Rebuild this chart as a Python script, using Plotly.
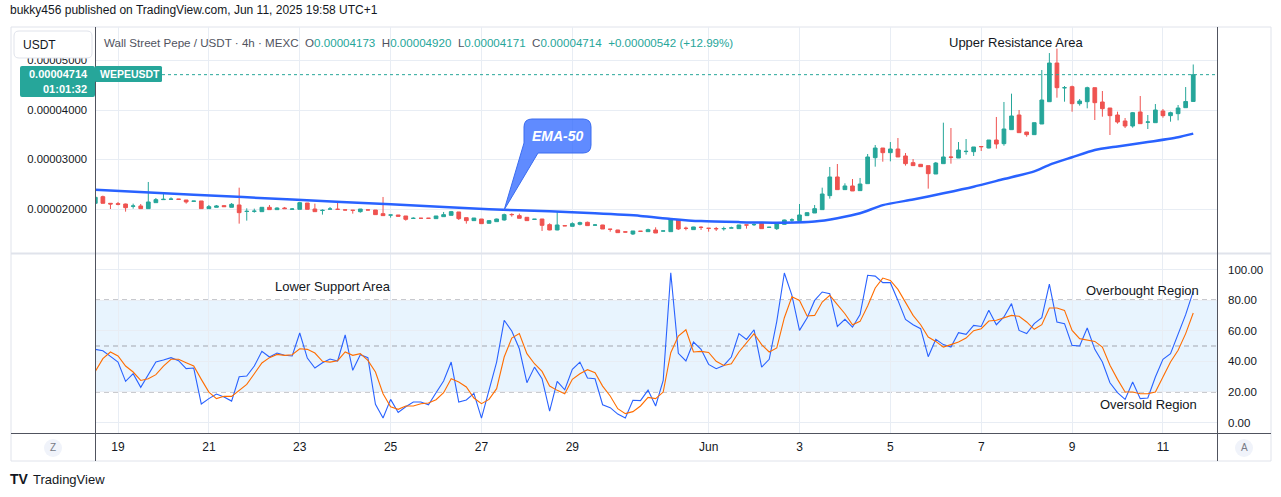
import numpy as np
import pandas as pd
import plotly.graph_objects as go
from plotly.subplots import make_subplots

# ---------------- data (prices in units of 1e-8 USDT) ----------------
bar_start = "2025-05-18 12:00"
bar_hours = 4

open_e8 = [2115, 2249, 2115, 2108, 2101, 2055, 2061, 2007, 2128, 2189,
           2196, 2200, 2182, 2155, 2162, 2007, 2034, 2068, 2034, 2081,
           1950, 1953, 1946, 2034, 1987, 2020, 1995, 1993, 2121, 2000,
           1970, 1998, 1995, 1982, 1975, 1946, 1982, 1980, 1906, 1877,
           1879, 1859, 1810, 1813, 1813, 1805, 1845, 1872, 1940, 1825,
           1765, 1798, 1711, 1744, 1778, 1890, 1866, 1832, 1790, 1798,
           1684, 1576, 1664, 1650, 1691, 1731, 1674, 1677, 1592, 1576,
           1538, 1495, 1551, 1542, 1576, 1555, 1542, 1778, 1612, 1583,
           1632, 1611, 1605, 1601, 1615, 1603, 1678, 1682, 1711, 1629,
           1603, 1690, 1776, 1765, 1866, 1919, 1987, 2270, 2647, 2391,
           2465, 2371, 2512, 3037, 3232, 3138, 3212, 3071, 2936, 2903,
           2876, 2707, 2916, 3051, 3030, 3160, 3158, 3262, 3232, 3394,
           3320, 3603, 3899, 3555, 3502, 3717, 4168, 4949, 4448, 4471,
           4128, 4168, 4451, 4162, 4040, 3899, 3778, 3677, 3960, 3755,
           3744, 3980, 3886, 3926, 4047, 4173]
high_e8 = [2245, 2270, 2118, 2142, 2108, 2108, 2101, 2546, 2222, 2303,
           2236, 2202, 2182, 2162, 2162, 2081, 2081, 2075, 2121, 2431,
           2014, 2007, 2034, 2081, 2034, 2041, 2020, 2142, 2121, 2108,
           1993, 2041, 2135, 1982, 1975, 2000, 1984, 1980, 2243, 1879,
           1879, 1859, 1832, 1814, 1814, 1859, 1940, 1960, 1940, 1825,
           1818, 1798, 1778, 1805, 1906, 1913, 1906, 1835, 1796, 1800,
           1711, 1953, 1666, 1731, 1744, 1744, 1697, 1680, 1592, 1578,
           1540, 1556, 1553, 1603, 1630, 1558, 1785, 1780, 1643, 1640,
           1650, 1612, 1637, 1643, 1643, 1680, 1678, 1711, 1711, 1632,
           1697, 1785, 1812, 2101, 1930, 2081, 2431, 2849, 2909, 2519,
           2606, 2627, 3111, 3293, 3232, 3353, 3434, 3131, 3010, 2910,
           2876, 2950, 3744, 3636, 3353, 3414, 3253, 3265, 3394, 3859,
           4162, 4330, 4000, 3555, 3744, 4808, 5151, 5240, 4485, 4492,
           4222, 4471, 4451, 4384, 4040, 3966, 3838, 3960, 4283, 3899,
           4121, 4020, 3966, 4101, 4464, 4920]
low_e8 = [2110, 2115, 2000, 2075, 1946, 2007, 2007, 2007, 2128, 2189,
          2196, 2194, 2108, 2155, 2007, 2007, 2034, 2047, 2034, 1704,
          1765, 1926, 1946, 1987, 1987, 2007, 1995, 1993, 1993, 1946,
          1886, 1998, 1993, 1978, 1906, 1926, 1978, 1886, 1866, 1825,
          1852, 1765, 1810, 1811, 1811, 1805, 1845, 1872, 1778, 1704,
          1765, 1704, 1711, 1738, 1765, 1845, 1812, 1760, 1788, 1556,
          1570, 1570, 1658, 1648, 1670, 1664, 1657, 1596, 1542, 1522,
          1530, 1475, 1547, 1542, 1515, 1553, 1542, 1576, 1569, 1583,
          1576, 1542, 1556, 1563, 1615, 1603, 1603, 1657, 1603, 1627,
          1576, 1685, 1731, 1758, 1866, 1919, 1987, 2209, 2391, 2391,
          2364, 2371, 2512, 2855, 2956, 2963, 3051, 2876, 2876, 2855,
          2411, 2707, 2916, 2916, 3030, 3098, 3071, 3172, 3226, 3219,
          3279, 3603, 3542, 3461, 3502, 3717, 4168, 4249, 4168, 3966,
          4088, 4034, 3798, 3865, 3495, 3724, 3636, 3643, 3724, 3616,
          3744, 3845, 3764, 3791, 4047, 4171]
close_e8 = [2236, 2115, 2101, 2095, 2027, 2061, 2007, 2142, 2189, 2196,
            2200, 2196, 2142, 2160, 2007, 2047, 2061, 2047, 2095, 1926,
            1953, 1956, 2034, 1987, 2020, 2007, 2000, 2128, 1993, 1946,
            1973, 2000, 1993, 1980, 1973, 2000, 1980, 1886, 1866, 1879,
            1852, 1791, 1812, 1812, 1812, 1859, 1886, 1946, 1805, 1765,
            1818, 1704, 1765, 1798, 1886, 1886, 1812, 1765, 1794, 1670,
            1576, 1677, 1660, 1704, 1724, 1664, 1677, 1596, 1590, 1522,
            1534, 1556, 1549, 1583, 1515, 1556, 1785, 1596, 1608, 1637,
            1628, 1609, 1601, 1605, 1618, 1677, 1676, 1686, 1603, 1631,
            1697, 1778, 1780, 1879, 1926, 2007, 2303, 2647, 2391, 2465,
            2364, 2505, 3051, 3232, 3138, 3212, 3051, 2916, 2876, 2855,
            2714, 2929, 3051, 3044, 3192, 3165, 3253, 3259, 3394, 3313,
            3616, 3879, 3542, 3502, 3744, 4202, 4949, 4451, 4451, 4128,
            4182, 4451, 4148, 4027, 3886, 3757, 3677, 3946, 3724, 3757,
            4000, 3886, 3946, 4040, 4172, 4714]

# EMA-50 read at selected bars (bar index, value in 1e-8)
ema_bar = [0, 13, 26, 39, 52, 60, 66, 72, 76, 80, 85, 90, 95, 98, 101, 104,
           108, 112, 116, 120, 124, 126, 129, 132, 135, 139, 143, 145]
ema_e8 = [2388, 2289, 2192, 2095, 1994, 1952, 1912, 1860, 1800, 1755, 1735,
          1724, 1748, 1815, 1913, 2078, 2192, 2317, 2450, 2605, 2760, 2893,
          3045, 3193, 3265, 3352, 3450, 3523]

stoch_k = [47.8, 46.9, 43.2, 39.5, 26.9, 31.9, 23.0, 30.8, 39.5, 40.8,
           42.4, 40.4, 35.2, 35.6, 12.1, 15.6, 18.6, 16.7, 14.0, 29.9,
           30.4, 36.9, 46.5, 42.8, 45.4, 43.9, 43.5, 58.5, 42.1, 35.6,
           39.1, 41.5, 40.2, 57.2, 34.1, 44.3, 42.4, 11.9, 2.9, 15.1,
           6.6, 10.3, 13.4, 13.4, 11.6, 19.5, 27.1, 39.5, 13.4, 14.7,
           19.0, 2.9, 21.0, 39.5, 66.8, 59.8, 48.2, 26.0, 36.2, 28.6,
           7.5, 26.9, 21.4, 34.7, 39.5, 29.1, 28.6, 11.6, 9.7, 5.5,
           2.9, 14.5, 14.3, 21.2, 10.8, 27.5, 97.9, 45.2, 40.2, 52.6,
           47.8, 38.0, 35.2, 37.3, 42.8, 58.1, 54.3, 60.6, 36.2, 41.3,
           66.1, 97.7, 83.1, 60.2, 68.3, 79.8, 85.3, 84.2, 62.8, 67.4,
           62.3, 70.5, 96.2, 95.7, 91.4, 91.4, 79.8, 67.4, 63.9, 61.3,
           43.0, 54.3, 50.9, 49.3, 58.7, 57.6, 63.5, 62.8, 73.3, 63.9,
           69.0, 77.7, 60.2, 58.1, 64.6, 68.5, 90.5, 65.7, 64.6, 50.4,
           50.0, 61.8, 47.8, 39.5, 26.0, 19.5, 15.1, 26.5, 15.6, 16.0,
           29.7, 41.3, 45.0, 57.6, 70.5, 85.7]
stoch_d = [33.4, 41.7, 46.1, 43.5, 36.9, 33.0, 27.5, 28.6, 31.3, 36.9,
           41.3, 41.3, 39.1, 36.9, 28.2, 19.9, 15.6, 17.1, 17.1, 20.8,
           24.9, 31.9, 38.9, 42.4, 44.5, 43.9, 44.3, 48.2, 47.8, 45.4,
           40.0, 39.5, 40.4, 46.1, 43.9, 45.0, 40.6, 33.0, 18.8, 10.3,
           8.6, 10.8, 10.8, 12.3, 12.7, 14.9, 19.5, 28.6, 26.5, 23.2,
           16.0, 12.3, 15.1, 22.1, 42.8, 55.2, 58.1, 45.0, 38.4, 33.4,
           23.8, 21.0, 18.8, 28.2, 31.9, 34.5, 32.6, 23.8, 17.3, 9.0,
           5.8, 7.1, 10.8, 16.4, 15.6, 19.9, 45.6, 56.5, 60.6, 46.1,
           46.5, 45.8, 40.0, 37.3, 38.4, 46.1, 52.2, 58.1, 50.9, 46.1,
           48.7, 68.5, 82.2, 79.8, 69.6, 70.0, 78.7, 83.1, 77.0, 71.1,
           63.9, 66.1, 76.1, 87.9, 94.4, 92.9, 87.0, 78.7, 70.0, 63.9,
           55.9, 53.0, 49.3, 50.9, 52.6, 55.2, 60.0, 61.3, 66.3, 66.8,
           68.3, 70.0, 69.4, 65.7, 60.9, 63.9, 74.8, 74.8, 73.3, 60.2,
           54.8, 54.1, 53.0, 49.3, 37.4, 28.2, 19.9, 19.9, 18.8, 18.8,
           19.9, 29.7, 39.5, 47.2, 58.1, 71.6]

date_ticks = ["2025-05-19", "2025-05-21", "2025-05-23", "2025-05-25", "2025-05-27",
              "2025-05-29", "2025-06-01", "2025-06-03", "2025-06-05", "2025-06-07",
              "2025-06-09", "2025-06-11"]
date_labels = ["19", "21", "23", "25", "27", "29", "Jun", "3", "5", "7", "9", "11"]
price_ticks = [2e-5, 3e-5, 4e-5, 5e-5]
stoch_ticks = [0, 20, 40, 60, 80, 100]
countdown = "01:01:32"

# ---------------- derived series ----------------
times = pd.date_range(bar_start, periods=len(close_e8), freq=f"{bar_hours}h")
o = np.array(open_e8) * 1e-8
h = np.array(high_e8) * 1e-8
l = np.array(low_e8) * 1e-8
c = np.array(close_e8) * 1e-8
ema_x = times[ema_bar]
ema_y = np.array(ema_e8) * 1e-8

# ---------------- geometry ----------------
W, H = 1281, 497
PL, PR, PT, PB = 95, 1217, 27, 433
UP_BOT, LO_TOP = 253, 254
FONT = "Liberation Sans, Arial, sans-serif"
UPC, DNC = "#26a69a", "#ef5350"
TXT = "#131722"
GRID = "#e8edf4"


def X(px):
    return (px - PL) / (PR - PL)


def Y(py):
    return (PB - py) / (PB - PT)


bar_px = 7.572
first_px = 95.3
i_left = (PL - first_px) / bar_px
i_right = (PR - first_px) / bar_px
t0 = pd.Timestamp(bar_start)
x_range = [t0 + pd.Timedelta(hours=bar_hours * i_left),
           t0 + pd.Timedelta(hours=bar_hours * i_right)]
price_range = [1111e-8, 5677e-8]
stoch_range = [-6.86, 110.13]

fig = make_subplots(rows=2, cols=1, shared_xaxes=True, vertical_spacing=0.0)

fig.add_trace(go.Candlestick(
    x=times, open=o, high=h, low=l, close=c,
    increasing=dict(line=dict(color=UPC, width=1), fillcolor=UPC),
    decreasing=dict(line=dict(color=DNC, width=1), fillcolor=DNC),
    whiskerwidth=0, showlegend=False, hoverinfo="skip"), row=1, col=1)

fig.add_trace(go.Scatter(
    x=ema_x, y=ema_y, mode="lines",
    line=dict(color="#2962ff", width=2.5, shape="spline", smoothing=0.6),
    showlegend=False, hoverinfo="skip"), row=1, col=1)

fig.add_trace(go.Scatter(
    x=times, y=stoch_k, mode="lines", line=dict(color="#2962ff", width=1.1),
    showlegend=False, hoverinfo="skip"), row=2, col=1)
fig.add_trace(go.Scatter(
    x=times, y=stoch_d, mode="lines", line=dict(color="#ff6d00", width=1.1),
    showlegend=False, hoverinfo="skip"), row=2, col=1)

fig.update_xaxes(range=x_range, rangeslider_visible=False, showgrid=True,
                 gridcolor=GRID, gridwidth=1, tickvals=date_ticks, ticktext=date_labels,
                 zeroline=False, showline=False, ticks="")
fig.update_xaxes(showticklabels=False, row=1, col=1)
fig.update_xaxes(showticklabels=True, tickfont=dict(size=12, color=TXT, family=FONT),
                 ticklabelstandoff=5, row=2, col=1)

fig.update_layout(
    yaxis=dict(domain=[Y(UP_BOT), 1], range=price_range, tickvals=price_ticks,
               tickformat=".8f", side="left", showgrid=True, gridcolor=GRID,
               zeroline=False, ticks="", ticklabelstandoff=7,
               tickfont=dict(size=11.3, color=TXT, family=FONT)),
    yaxis2=dict(domain=[0, Y(LO_TOP)], range=stoch_range, tickvals=stoch_ticks,
                tickformat=".2f", side="right", showgrid=True, gridcolor=GRID,
                zeroline=False, ticks="", ticklabelstandoff=10,
                tickfont=dict(size=11.5, color=TXT, family=FONT)),
)


def pline(x0, y0, x1, y1, color, width=1, dash=None):
    return dict(type="line", xref="paper", yref="paper", x0=X(x0), y0=Y(y0),
                x1=X(x1), y1=Y(y1), line=dict(color=color, width=width, dash=dash),
                layer="above")


def rrect_path(x0, y0, x1, y1, r):
    return (f"M{X(x0 + r)},{Y(y0)} L{X(x1 - r)},{Y(y0)} Q{X(x1)},{Y(y0)} {X(x1)},{Y(y0 + r)} "
            f"L{X(x1)},{Y(y1 - r)} Q{X(x1)},{Y(y1)} {X(x1 - r)},{Y(y1)} "
            f"L{X(x0 + r)},{Y(y1)} Q{X(x0)},{Y(y1)} {X(x0)},{Y(y1 - r)} "
            f"L{X(x0)},{Y(y0 + r)} Q{X(x0)},{Y(y0)} {X(x0 + r)},{Y(y0)} Z")


last_close = close_e8[-1] * 1e-8
shapes = []
# stoch band and levels
shapes.append(dict(type="rect", xref="x2 domain", yref="y2", x0=0, x1=1, y0=20, y1=80,
                   fillcolor="rgba(33,150,243,0.10)", line=dict(width=0), layer="below"))
for lv, col in [(80, "#787b86"), (50, "#a3a6af"), (20, "#787b86")]:
    shapes.append(dict(type="line", xref="x2 domain", yref="y2", x0=0, x1=1, y0=lv, y1=lv,
                       line=dict(color=col, width=1, dash="5px,4px"), layer="below"))
# frame and dividers
shapes.append(dict(type="rect", xref="paper", yref="paper", x0=X(11), x1=X(1271),
                   y0=Y(461), y1=Y(27), line=dict(color="#e0e3eb", width=1),
                   fillcolor="rgba(0,0,0,0)", layer="below"))
shapes.append(pline(11, 253.5, 1271, 253.5, "#e0e3eb", 2))
shapes.append(pline(11, 433.5, 1271, 433.5, "#50535e", 1))
shapes.append(pline(95.5, 27, 95.5, 461, "#50535e", 1))
shapes.append(pline(1217.5, 27, 1217.5, 461, "#50535e", 1))
# last price dotted line
shapes.append(dict(type="line", xref="paper", yref="y", x0=X(162), x1=1,
                   y0=last_close, y1=last_close,
                   line=dict(color=UPC, width=1, dash="dot"), layer="above"))
# price label boxes
shapes.append(dict(type="path", xref="paper", yref="paper", path=rrect_path(20, 66, 95, 97, 2),
                   fillcolor=UPC, line=dict(width=0), layer="above"))
shapes.append(dict(type="path", xref="paper", yref="paper", path=rrect_path(95, 66, 162, 82, 1.5),
                   fillcolor=UPC, line=dict(width=0), layer="above"))
# USDT box
shapes.append(dict(type="path", xref="paper", yref="paper", path=rrect_path(14, 31, 92, 58, 5),
                   fillcolor="white", line=dict(color="#e0e3eb", width=1), layer="above"))
# Z / A circles
for cx in (53, 1244):
    shapes.append(dict(type="circle", xref="paper", yref="paper", x0=X(cx - 9), x1=X(cx + 9),
                       y0=Y(457), y1=Y(439), fillcolor="#f0f3fa", line=dict(width=0),
                       layer="above"))

# EMA-50 callout, tip at the EMA around bar 54
tip_bar = 54
tip_val = np.interp(tip_bar, ema_bar, ema_e8) * 1e-8
tip_px = first_px + tip_bar * bar_px
tip_py = PT + (price_range[1] - tip_val) / (price_range[1] - price_range[0]) * (UP_BOT - PT)
bx0, by0, bx1, by1, r = 524, 119, 591, 153, 8
callout = (f"M{X(bx0 + r)},{Y(by0)} L{X(bx1 - r)},{Y(by0)} Q{X(bx1)},{Y(by0)} {X(bx1)},{Y(by0 + r)} "
           f"L{X(bx1)},{Y(by1 - r)} Q{X(bx1)},{Y(by1)} {X(bx1 - r)},{Y(by1)} "
           f"L{X(538)},{Y(by1)} L{X(tip_px)},{Y(tip_py)} L{X(bx0)},{Y(143)} "
           f"L{X(bx0)},{Y(by0 + r)} Q{X(bx0)},{Y(by0)} {X(bx0 + r)},{Y(by0)} Z")
shapes.append(dict(type="path", xref="paper", yref="paper", path=callout,
                   fillcolor="rgba(41,98,255,0.74)", line=dict(color="#3a6cf0", width=1),
                   layer="above"))


def ptext(px, py, text, size=12, color=TXT, xanchor="left", yanchor="middle"):
    return dict(xref="paper", yref="paper", x=X(px), y=Y(py), text=text, showarrow=False,
                xanchor=xanchor, yanchor=yanchor, font=dict(size=size, color=color, family=FONT),
                borderpad=0)


def fmt(v):
    return f"{v * 1e-8:.8f}"


chg = close_e8[-1] - close_e8[-2]
pct = chg / close_e8[-2] * 100
g = "#50535e"
legend = (f'<span style="color:{g}">Wall Street Pepe / USDT · 4h · MEXC</span>&nbsp;&nbsp;'
          f'<span style="color:{g}">O</span><span style="color:{UPC}">{fmt(open_e8[-1])}</span>&nbsp;&nbsp;'
          f'<span style="color:{g}">H</span><span style="color:{UPC}">{fmt(high_e8[-1])}</span>&nbsp;&nbsp;'
          f'<span style="color:{g}">L</span><span style="color:{UPC}">{fmt(low_e8[-1])}</span>&nbsp;&nbsp;'
          f'<span style="color:{g}">C</span><span style="color:{UPC}">{fmt(close_e8[-1])}</span>&nbsp;&nbsp;'
          f'<span style="color:{UPC}">+{fmt(chg)} (+{pct:.2f}%)</span>')

annotations = [
    ptext(9, 10, "bukky456 published on TradingView.com, Jun 11, 2025 19:58 UTC+1", 12),
    ptext(103, 42, legend, 11.6),
    ptext(1016, 42, "Upper Resistance Area", 13, xanchor="center"),
    ptext(333, 286, "Lower Support Area", 13, xanchor="center"),
    ptext(1142, 290, "Overbought Region", 13, xanchor="center"),
    ptext(1148, 404, "Oversold Region", 13, xanchor="center"),
    ptext(557.5, 135.5, "<b><i>EMA-50</i></b>", 14, "white", xanchor="center"),
    ptext(89, 74, f"<b>{fmt(close_e8[-1])}</b>", 11, "white", xanchor="right"),
    ptext(88, 89, f"<b>{countdown}</b>", 11, "white", xanchor="right"),
    ptext(99, 74, "<b>WEPEUSDT</b>", 10.5, "white"),
    ptext(22, 45, "USDT", 12),
    ptext(53, 448, "Z", 10, "#787b86", xanchor="center"),
    ptext(1244, 448, "A", 10, "#787b86", xanchor="center"),
    ptext(9, 479, "<b>TV</b>", 14, "#131722"),
    ptext(32, 479, "TradingView", 13, "#131722"),
]

fig.update_layout(
    width=W, height=H,
    margin=dict(l=PL, r=W - PR, t=PT, b=H - PB, pad=0),
    paper_bgcolor="white", plot_bgcolor="white",
    font=dict(family=FONT, color=TXT),
    shapes=shapes, annotations=annotations,
    showlegend=False, hovermode=False,
)

fig.write_html("out.html")
